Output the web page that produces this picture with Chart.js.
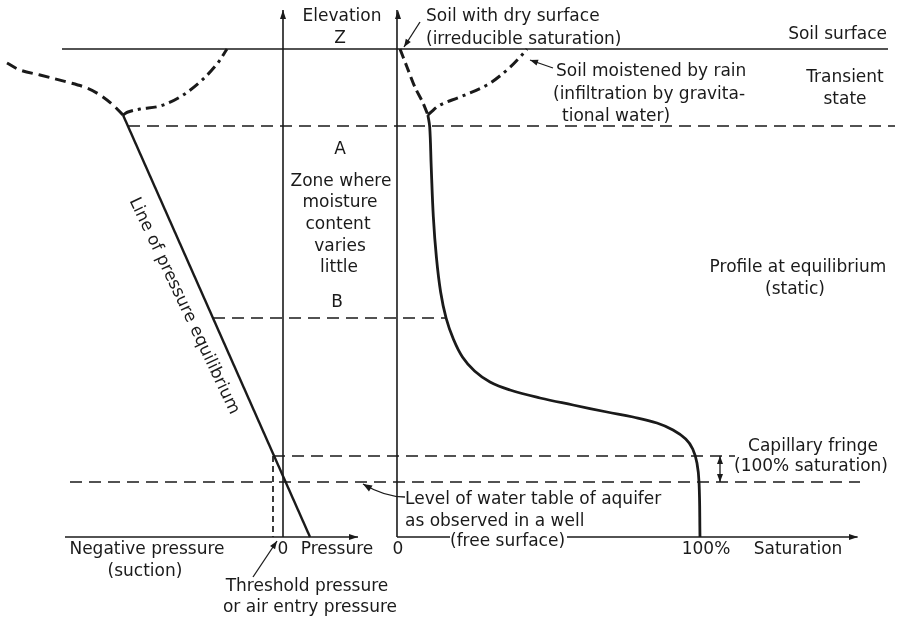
<!DOCTYPE html>
<html><head><meta charset="utf-8">
<script src="https://cdn.jsdelivr.net/npm/chart.js@4"></script>
<style>html,body{margin:0;padding:0;background:#fff;} canvas{display:block;}</style>
</head><body>
<canvas id="c" width="903" height="618"></canvas>
<script>
// ---------- DATA (p = relative pressure units, s = saturation %, z = elevation) ----------
const equilibriumP = [-160, 27];
const equilibriumZ = [422, 0];
const dryLeftP = [-276, -263, -243, -216, -196, -183, -170, -160];
const dryLeftZ = [474, 467, 462, 455, 449, 442, 432, 422];
const wetLeftP = [-160, -155, -143, -123, -103, -83, -66, -56];
const wetLeftZ = [422, 425, 428, 431, 440, 455, 473, 488];
const drySatS = [1.0, 3.3, 5.9, 8.6, 10.2];
const drySatZ = [488, 470, 450, 434, 422];
const wetSatS = [10.2, 10.9, 14.2, 20.8, 29.7, 36.3, 40.6, 42.9];
const wetSatZ = [422, 424, 432, 440, 452, 467, 480, 488];
const staticSatS = [10.2, 10.8, 11.3, 12.0, 13.0, 14.4, 16.2, 18.6, 21.6, 25.6, 30.7, 37.3, 47.2, 58.1, 69.3, 77.9, 85.8, 91.1, 95.3, 97.6, 99.0, 99.7, 100];
const staticSatZ = [422, 410, 370, 320, 280, 245, 219, 198, 180, 166, 155, 147, 139, 132, 125, 120, 114, 107, 98, 88, 74, 54, 0];
// horizontal reference levels
const levelNames = ['Soil surface', 'A', 'B', 'Capillary fringe top', 'Water table'];
const levelZ = [488, 411, 219, 81, 55];
const levelFromP = [-221, -155, -70, -10, -213];
const levelToP = [605, 612, 162, 452, 577];
const thresholdP = -10;
// axes extents
const pressureAxisP = [-218, 75];
const elevationTopZ = 527;
const saturationAxisS = [0, 17.5, 56.1, 152];
const tickLabels = ['0', 'Pressure', '0', '100%', 'Saturation'];

// ---------- STYLE ----------
const INK = '#1a1a1a';
const FONT = '17px "DejaVu Sans"';

function pts(xs, zs) { return xs.map((x, i) => ({x: x, y: zs[i]})); }
function ds(axis, xs, zs, width, dash, tension) {
  return {data: pts(xs, zs), xAxisID: axis, yAxisID: 'z', showLine: true, fill: false,
    borderColor: INK, borderWidth: width, borderDash: dash || [], tension: tension || 0,
    pointRadius: 0, borderCapStyle: 'butt', borderJoinStyle: 'round'};
}

const datasets = [];
// axes lines
datasets.push(ds('p', [0, 0], [0, elevationTopZ], 1.6));
datasets.push(ds('s', [0, 0], [0, elevationTopZ], 1.6));
datasets.push(ds('p', pressureAxisP, [0, 0], 1.5));
datasets.push(ds('s', saturationAxisS.slice(0, 2), [0, 0], 1.5));
datasets.push(ds('s', saturationAxisS.slice(2, 4), [0, 0], 1.5));
// levels
levelZ.forEach((z, i) => {
  datasets.push(ds('p', [levelFromP[i], levelToP[i]], [z, z], 1.5, i === 0 ? [] : [12, 7]));
});
// threshold vertical
datasets.push(ds('p', [thresholdP, thresholdP], [levelZ[3], 0], 1.7, [6, 4]));
// equilibrium line
datasets.push(ds('p', equilibriumP, equilibriumZ, 2.4));
// left curves
datasets.push(ds('p', dryLeftP, dryLeftZ, 3, [11, 6], 0.35));
datasets.push(ds('p', wetLeftP, wetLeftZ, 3, [11, 5, 3, 5], 0.35));
// right curves
datasets.push(ds('s', drySatS, drySatZ, 3, [10, 5], 0.3));
datasets.push(ds('s', wetSatS, wetSatZ, 3, [11, 5, 3, 5], 0.35));
datasets.push(ds('s', staticSatS, staticSatZ, 2.8, [], 0.4));

// ---------- ANNOTATION LAYOUT (positions in p / z units) ----------
const labels = [
  ['Elevation', 59, 520, 'center'], ['Z', 57, 498, 'center'],
  ['Soil with dry surface', 143, 520, 'left'], ['(irreducible saturation)', 143, 497, 'left'],
  ['Soil surface', 604, 502, 'right'],
  ['Soil moistened by rain', 273, 465, 'left'], ['(infiltration by gravita-', 270, 442, 'left'], ['tional water)', 279, 420, 'left'],
  ['Transient', 562, 459, 'center'], ['state', 562, 437, 'center'],
  ['A', 57, 387, 'center'], ['Zone where', 58, 355, 'center'], ['moisture', 57, 334, 'center'],
  ['content', 55, 312, 'center'], ['varies', 57, 290, 'center'], ['little', 56, 269, 'center'], ['B', 54, 234, 'center'],
  ['Profile at equilibrium', 515, 269, 'center'], ['(static)', 512, 247, 'center'],
  ['Capillary fringe', 530, 90, 'center'], ['(100% saturation)', 528, 70, 'center'],
  ['Level of water table of aquifer', 122, 37, 'left'], ['as observed in a well', 122, 15, 'left'], ['(free surface)', 167, -5, 'left'],
  [tickLabels[0], 0, -13, 'center'], [tickLabels[1], 54, -13, 'center'], [tickLabels[2], 115, -13, 'center'],
  [tickLabels[3], 423, -13, 'center'], [tickLabels[4], 515, -13, 'center'],
  ['Negative pressure', -136, -13, 'center'], ['(suction)', -138, -35, 'center'],
  ['Threshold pressure', 24, -50, 'center'], ['or air entry pressure', 27, -71, 'center']
];
const rotatedLabel = ['Line of pressure equilibrium', -99, 231, 64.7];
// arrows: [tailP, tailZ, tipP, tipZ]
const arrows = [
  [0, 510, 0, 527], [115, 510, 115, 527],
  [60, 0, 75, 0], [560, 0, 575, 0],
  [137, 515, 121, 490], [270, 469, 247, 477],
  [-30, -40, -6, -4],
  [437, 68, 437, 81], [437, 68, 437, 55]
];
const curvedArrow = [122, 40, 102, 40, 80, 53];

function head(ctx, fx, fy, tx, ty, len, hw) {
  const a = Math.atan2(ty - fy, tx - fx);
  ctx.beginPath();
  ctx.moveTo(tx, ty);
  ctx.lineTo(tx - len * Math.cos(a) + hw * Math.sin(a), ty - len * Math.sin(a) - hw * Math.cos(a));
  ctx.lineTo(tx - len * Math.cos(a) - hw * Math.sin(a), ty - len * Math.sin(a) + hw * Math.cos(a));
  ctx.closePath();
  ctx.fill();
}

const annot = {
  id: 'annot',
  afterDatasetsDraw(chart) {
    const ctx = chart.ctx, X = chart.scales.p, Z = chart.scales.z;
    ctx.save();
    ctx.fillStyle = INK; ctx.strokeStyle = INK;
    ctx.font = FONT; ctx.textBaseline = 'middle';
    labels.forEach(l => { ctx.textAlign = l[3]; ctx.fillText(l[0], X.getPixelForValue(l[1]), Z.getPixelForValue(l[2])); });
    ctx.save();
    ctx.translate(X.getPixelForValue(rotatedLabel[1]), Z.getPixelForValue(rotatedLabel[2]));
    ctx.rotate(rotatedLabel[3] * Math.PI / 180);
    ctx.textAlign = 'center';
    ctx.fillText(rotatedLabel[0], 0, 0);
    ctx.restore();
    ctx.lineWidth = 1.3;
    arrows.forEach((a, i) => {
      const fx = X.getPixelForValue(a[0]), fy = Z.getPixelForValue(a[1]);
      const tx = X.getPixelForValue(a[2]), ty = Z.getPixelForValue(a[3]);
      if (i >= 4) { ctx.beginPath(); ctx.moveTo(fx, fy); ctx.lineTo(tx, ty); ctx.stroke(); }
      head(ctx, fx, fy, tx, ty, i < 4 ? 9 : 8, 3);
    });
    const c = curvedArrow.map((v, i) => i % 2 === 0 ? X.getPixelForValue(v) : Z.getPixelForValue(v));
    ctx.beginPath(); ctx.moveTo(c[0], c[1]); ctx.quadraticCurveTo(c[2], c[3], c[4], c[5]); ctx.stroke();
    head(ctx, c[2], c[3], c[4], c[5], 9, 3.5);
    ctx.restore();
  }
};

new Chart(document.getElementById('c'), {
  type: 'scatter',
  data: {datasets: datasets},
  options: {
    responsive: false, animation: false, devicePixelRatio: 1,
    layout: {padding: 0},
    plugins: {legend: {display: false}, tooltip: {enabled: false}},
    scales: {
      p: {type: 'linear', axis: 'x', min: -283, max: 620, display: false},
      s: {type: 'linear', axis: 'x', min: -131.02, max: 167.0, display: false},
      z: {type: 'linear', axis: 'y', min: -81, max: 537, display: false}
    }
  },
  plugins: [annot]
});
</script>
</body></html>
